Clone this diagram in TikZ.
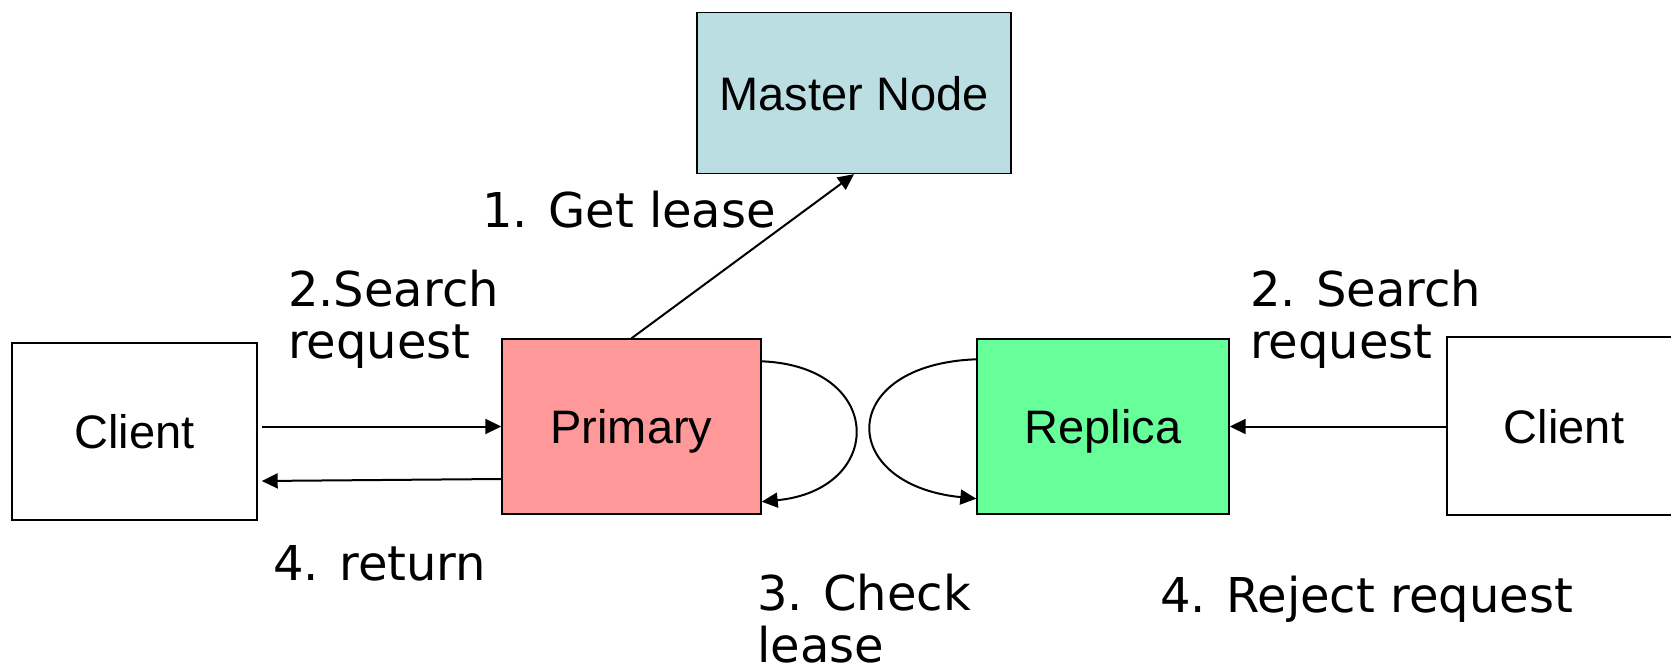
\documentclass[tikz,border=0pt]{standalone}
\usepackage{fontspec}
\setmainfont{DejaVu Sans}
\newfontfamily\arialfont{Liberation Sans}
\usepackage{xcolor}
\definecolor{mastercyan}{HTML}{BBDEE2}
\definecolor{primaryred}{HTML}{FF9999}
\definecolor{replicagreen}{HTML}{66FF99}
\usetikzlibrary{positioning,calc,arrows.meta}

\begin{document}
\begin{tikzpicture}[x=1pt, y=-1pt,
		box/.style={draw, line width=1.4pt, inner sep=0pt, text depth=0pt, font=\arialfont\fontsize{47}{50}\selectfont},
		msg/.style={line width=2pt, -{Triangle[length=16pt,width=15pt]}},
		lbl/.style={anchor=base west, inner sep=0pt, align=left, font=\fontsize{48}{52}\selectfont}]
	\useasboundingbox (0,0) rectangle (1671,671);
	\node[box, fill=mastercyan, minimum width=314pt, minimum height=161pt] (master) at (854,93) {Master Node};
	\node[box, minimum width=245pt, minimum height=177pt] (lclient) at (134.5,431.5) {Client};
	\node[box, fill=primaryred, minimum width=259pt, minimum height=175pt] (prim) at (631.5,426.5) {Primary};
	\node[box, fill=replicagreen, minimum width=252pt, minimum height=175pt] (rep) at (1103,426.5) {Replica};
	\node[box, minimum width=234pt, minimum height=178pt] (rclient) at (1564,426) {Client};

	\draw[msg] (prim.north) -- (master.south);
	\draw[msg, shorten <=4pt] (lclient.east |- prim.west) -- (prim.west);
	\draw[msg] ([yshift=-52.5pt]prim.west) -- ([xshift=4pt,yshift=-49.5pt]lclient.east);
	\draw[msg] (rclient.west |- rep.east) -- (rep.east);
	\draw[msg] ([yshift=-23pt]prim.north east) .. controls +(124,5) and +(124,-12) .. ([yshift=13pt]prim.south east);
	\draw[msg] ([yshift=-21pt]rep.north west) .. controls +(-140,5) and +(-140,-14) .. ([yshift=16pt]rep.south west);

	\node[lbl] (getlease) at (482,228) {1. Get lease};
	\node[lbl] (searchl) at (288,358) {2.Search\\request};
	\node[lbl] (returnl) at (273,580) {4. return};
	\node[lbl] (checklease) at (757,662) {3. Check\\lease};
	\node[lbl] (searchr) at (1250,358) {2. Search\\request};
	\node[lbl] (reject) at (1160,612) {4. Reject request};
\end{tikzpicture}
\end{document}
